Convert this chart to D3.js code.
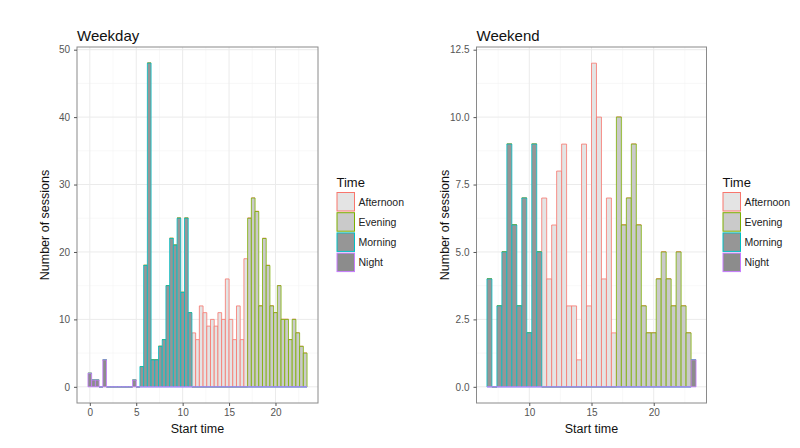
<!DOCTYPE html>
<html>
<head>
<meta charset="utf-8">
<script src="https://cdn.jsdelivr.net/npm/d3@7"></script>
<style>
  html, body { margin: 0; padding: 0; background: #fff; }
  svg { display: block; font-family: "Liberation Sans", Arial, Helvetica, sans-serif; }
</style>
</head>
<body>
<svg id="chart" width="800" height="448"></svg>
<script>
// ---- Data (histogram counts, bin width 0.4 h) ----
const categories = ["Afternoon", "Evening", "Morning", "Night"];
const binWidth = 0.4;

// Weekday: bins start at -0.2 h
const weekdayFirstBin = -0.2;
const weekdayNight     = [2, 1, 1, 0, 4, 0, 0, 0, 0, 0, 0, 0, 1, 0];                 // bins 0-13
const weekdayMorning   = [3, 18, 48, 4, 4, 6, 7, 15, 22, 21, 25, 14, 25, 11];          // bins 14-27
const weekdayAfternoon = [8, 7, 12, 11, 9, 10, 9, 11, 10, 16, 10, 7, 12, 7, 19];       // bins 28-42
const weekdayEvening   = [25, 28, 26, 12, 22, 18, 12, 11, 15, 10, 10, 7, 10, 8, 6, 5]; // bins 43-58

// Weekend: bins start at 6.6 h
const weekendFirstBin = 6.6;
const weekendMorning   = [4, 0, 3, 5, 9, 6, 3, 7, 2, 9, 5];                            // bins 0-10
const weekendAfternoon = [7, 4, 6, 8, 9, 3, 3, 1, 9, 3, 12, 10, 4, 7, 2];              // bins 11-25
const weekendEvening   = [10, 6, 7, 9, 6, 3, 2, 2, 4, 5, 4, 3, 5, 3, 2];               // bins 26-40
const weekendNight     = [1];                                                          // bin 41

const weekdayYTicks = [0, 10, 20, 30, 40, 50];
const weekdayXTicks = [0, 5, 10, 15, 20];
const weekendYTicks = [0, 2.5, 5, 7.5, 10, 12.5];
const weekendXTicks = [10, 15, 20];

const strokeColors = { Afternoon: "#F8766D", Evening: "#7CAE00", Morning: "#00BFC4", Night: "#C77CFF" };
const fillColors   = { Afternoon: "#E4E4E4", Evening: "#CACACA", Morning: "#969696", Night: "#8C8C8C" };

// build per-bin rows from category segments (in bin order)
function buildRows(firstBin, segments) {
  const total = segments.reduce((s, seg) => s + seg.values.length, 0);
  const rows = d3.range(total).map(i => {
    const r = { x0: firstBin + i * binWidth, x1: firstBin + (i + 1) * binWidth };
    categories.forEach(c => r[c] = 0);
    return r;
  });
  let idx = 0;
  segments.forEach(seg => { seg.values.forEach(v => { rows[idx][seg.cat] = v; idx++; }); });
  return rows;
}

const weekdayRows = buildRows(weekdayFirstBin, [
  { cat: "Night", values: weekdayNight },
  { cat: "Morning", values: weekdayMorning },
  { cat: "Afternoon", values: weekdayAfternoon },
  { cat: "Evening", values: weekdayEvening }
]);
const weekendRows = buildRows(weekendFirstBin, [
  { cat: "Morning", values: weekendMorning },
  { cat: "Afternoon", values: weekendAfternoon },
  { cat: "Evening", values: weekendEvening },
  { cat: "Night", values: weekendNight }
]);

const svg = d3.select("#chart");

function drawPanel(opt) {
  const { rows, title, px0, px1, py0, py1, xTicks, yTicks, yFormat, legendX } = opt;
  const g = svg.append("g");
  const xMin = d3.min(rows, d => d.x0), xMax = d3.max(rows, d => d.x1);
  const xPad = (xMax - xMin) * 0.05;
  const stack = d3.stack().keys(["Night", "Morning", "Evening", "Afternoon"]);
  const series = stack(rows);
  const yMax = d3.max(series[series.length - 1], d => d[1]);
  const x = d3.scaleLinear().domain([xMin - xPad, xMax + xPad]).range([px0, px1]);
  const y = d3.scaleLinear().domain([-yMax * 0.05, yMax * 1.05]).range([py1, py0]);

  // grid
  const xStep = xTicks[1] - xTicks[0], yStep = yTicks[1] - yTicks[0];
  const [xd0, xd1] = x.domain(), [yd0, yd1] = y.domain();
  const xMinor = d3.range(Math.ceil(xd0 / (xStep / 2)), Math.floor(xd1 / (xStep / 2)) + 1).map(k => k * xStep / 2).filter(v => !xTicks.includes(v));
  const yMinor = d3.range(Math.ceil(yd0 / (yStep / 2)), Math.floor(yd1 / (yStep / 2)) + 1).map(k => k * yStep / 2).filter(v => !yTicks.some(t => Math.abs(t - v) < 1e-9));
  g.append("g").selectAll("line").data(xMinor).join("line")
    .attr("x1", d => x(d)).attr("x2", d => x(d)).attr("y1", py0).attr("y2", py1)
    .attr("stroke", "#F3F3F3").attr("stroke-width", 0.6);
  g.append("g").selectAll("line").data(yMinor).join("line")
    .attr("y1", d => y(d)).attr("y2", d => y(d)).attr("x1", px0).attr("x2", px1)
    .attr("stroke", "#F3F3F3").attr("stroke-width", 0.6);
  g.append("g").selectAll("line").data(xTicks).join("line")
    .attr("x1", d => x(d)).attr("x2", d => x(d)).attr("y1", py0).attr("y2", py1)
    .attr("stroke", "#EBEBEB").attr("stroke-width", 1);
  g.append("g").selectAll("line").data(yTicks).join("line")
    .attr("y1", d => y(d)).attr("y2", d => y(d)).attr("x1", px0).attr("x2", px1)
    .attr("stroke", "#EBEBEB").attr("stroke-width", 1);

  // bars as closed paths (zero-height bars still show as a line): order Afternoon, Evening, Morning, Night
  const byKey = {};
  series.forEach(s => byKey[s.key] = s);
  categories.forEach(cat => {
    g.append("g").selectAll("path").data(byKey[cat]).join("path")
      .attr("d", d => {
        const xa = x(d.data.x0), xb = x(d.data.x1), ya = y(d[0]), yb = y(d[1]);
        return `M${xa},${ya}H${xb}V${yb}H${xa}Z`;
      })
      .attr("fill", fillColors[cat])
      .attr("stroke", strokeColors[cat])
      .attr("stroke-width", d => (d[1] - d[0]) === 0 ? 1.3 : 0.8);
  });

  // panel border
  g.append("rect").attr("x", px0).attr("y", py0).attr("width", px1 - px0).attr("height", py1 - py0)
    .attr("fill", "none").attr("stroke", "#8a8a8a").attr("stroke-width", 1);

  // axes
  const xAxis = g.append("g").attr("transform", `translate(0,${py1})`)
    .call(d3.axisBottom(x).tickValues(xTicks).tickSize(3).tickPadding(3).tickFormat(d3.format("d")));
  const yAxis = g.append("g").attr("transform", `translate(${px0},0)`)
    .call(d3.axisLeft(y).tickValues(yTicks).tickSize(3).tickPadding(4).tickFormat(yFormat));
  [xAxis, yAxis].forEach(a => {
    a.select(".domain").remove();
    a.selectAll(".tick line").attr("stroke", "#555");
    a.selectAll(".tick text").attr("fill", "#555").style("font-size", "10px").style("font-family", "'Liberation Sans', Arial, sans-serif");
  });

  // titles
  g.append("text").attr("x", px0).attr("y", 41).text(title)
    .style("font-size", "15px").attr("fill", "#111");
  g.append("text").attr("x", (px0 + px1) / 2).attr("y", 433).attr("text-anchor", "middle")
    .text("Start time").style("font-size", "12.5px").attr("fill", "#111");
  g.append("text").attr("transform", `translate(${px0 - 28},${(py0 + py1) / 2}) rotate(-90)`)
    .attr("text-anchor", "middle").text("Number of sessions").style("font-size", "12.5px").attr("fill", "#111");

  // legend
  const lg = g.append("g").attr("transform", `translate(${legendX},0)`);
  lg.append("text").attr("x", 0).attr("y", 187).text("Time").style("font-size", "13px").attr("fill", "#111");
  categories.forEach((cat, i) => {
    const ky = 192 + i * 20.2;
    lg.append("rect").attr("x", 0.5).attr("y", ky + 0.5).attr("width", 17.5).attr("height", 18.5)
      .attr("fill", fillColors[cat]).attr("stroke", strokeColors[cat]).attr("stroke-width", 1);
    lg.append("text").attr("x", 22).attr("y", ky + 13.5).text(cat)
      .style("font-size", "10.5px").attr("fill", "#222");
  });
}

drawPanel({ rows: weekdayRows, title: "Weekday", px0: 77, px1: 318, py0: 47, py1: 403,
  xTicks: weekdayXTicks, yTicks: weekdayYTicks, yFormat: d3.format("d"), legendX: 336.5 });
drawPanel({ rows: weekendRows, title: "Weekend", px0: 476.5, px1: 706.5, py0: 47, py1: 403,
  xTicks: weekendXTicks, yTicks: weekendYTicks, yFormat: d3.format(".1f"), legendX: 722.5 });
</script>
</body>
</html>
